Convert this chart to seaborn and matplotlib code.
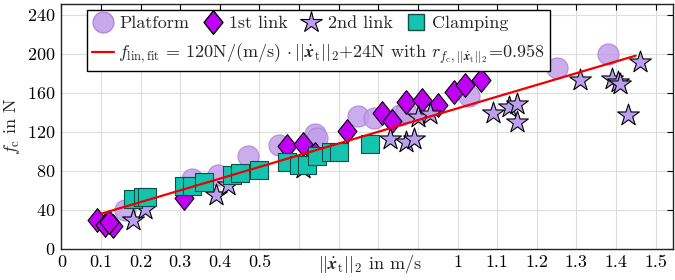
import matplotlib
matplotlib.use("Agg")
import matplotlib.pyplot as plt
import seaborn as sns
import numpy as np
import pandas as pd
from matplotlib.lines import Line2D
from matplotlib.patches import Rectangle
from matplotlib.transforms import Bbox
from matplotlib.path import Path

# ---------------- data ----------------
platform_x = [0.16, 0.33, 0.395, 0.47, 0.55, 0.64, 0.645, 0.75, 0.79, 0.855, 0.87, 1.03, 1.25, 1.38]
platform_y = [40, 72, 76, 95, 106, 118, 114, 136, 134, 137, 140, 157, 185, 200]

link1_x = [0.09, 0.11, 0.13, 0.12, 0.31, 0.57, 0.61, 0.64, 0.72, 0.81, 0.835, 0.87, 0.91, 0.95, 0.99, 1.02, 1.06]
link1_y = [30, 25, 23, 28, 52, 105, 107, 97, 121, 139, 131, 151, 153, 147, 161, 168, 173]

link2_x = [0.18, 0.21, 0.39, 0.42, 0.61, 0.83, 0.87, 0.89, 0.90, 0.93, 1.09, 1.13, 1.15, 1.15, 1.31, 1.39, 1.405, 1.41, 1.43, 1.46]
link2_y = [30, 41, 55, 65, 83, 113, 110, 113, 135, 138, 139, 145, 148, 130, 173, 174, 171, 169, 137, 192]

clamp_x = [0.18, 0.205, 0.215, 0.31, 0.33, 0.36, 0.43, 0.45, 0.50, 0.57, 0.60, 0.62, 0.645, 0.68, 0.70, 0.78]
clamp_y = [51, 53, 53, 64, 64, 69, 76, 78, 81, 89, 86, 86, 95, 99, 99, 108]

fit_slope = 120
fit_intercept = 24
fit_x = [0.1, 1.45]

x_ticks = [0, 0.1, 0.2, 0.3, 0.4, 0.5, 0.6, 0.7, 0.8, 0.9, 1.0, 1.1, 1.2, 1.3, 1.4, 1.5]
x_ticklabels = ["0", "0.1", "0.2", "0.3", "0.4", "0.5", "", "", "", "", "1", "1.1", "1.2", "1.3", "1.4", "1.5"]
y_ticks = [0, 40, 80, 120, 160, 200, 240]

# ---------------- style ----------------
sns.set_theme(style="white")
plt.rcParams["font.family"] = ["cmr10", "DejaVu Serif"]
plt.rcParams["mathtext.fontset"] = "cm"
plt.rcParams["axes.formatter.use_mathtext"] = True
plt.rcParams["axes.unicode_minus"] = False

FS = 13
c_plat = "#C29EEA"
c_l1 = "#BF00F5"
c_l2 = "#BBA0F2"
c_cl = "#14C4AE"

# MATLAB-like diamond (slightly taller than wide)
diamond = Path([(0, 1), (0.8, 0), (0, -1), (-0.8, 0), (0, 1)],
               [Path.MOVETO, Path.LINETO, Path.LINETO, Path.LINETO, Path.CLOSEPOLY])

fig = plt.figure(figsize=(6.75, 2.8), dpi=100)
ax = fig.add_axes([0.091, 0.111, 0.906, 0.875])

df_p = pd.DataFrame({"x": platform_x, "y": platform_y})
df_1 = pd.DataFrame({"x": link1_x, "y": link1_y})
df_2 = pd.DataFrame({"x": link2_x, "y": link2_y})
df_c = pd.DataFrame({"x": clamp_x, "y": clamp_y})
fit_y = [fit_slope * v + fit_intercept for v in fit_x]
df_f = pd.DataFrame({"x": fit_x, "y": fit_y})

sns.scatterplot(data=df_p, x="x", y="y", ax=ax, marker="o", s=230, color=c_plat,
                edgecolor="#A884D0", linewidth=0.8, alpha=0.85, zorder=3, legend=False)
sns.scatterplot(data=df_1, x="x", y="y", ax=ax, marker=diamond, s=290, color=c_l1,
                edgecolor="black", linewidth=0.8, zorder=3, legend=False)
sns.scatterplot(data=df_2, x="x", y="y", ax=ax, marker="*", s=270, color=c_l2,
                edgecolor="black", linewidth=0.8, zorder=3, legend=False)
sns.scatterplot(data=df_c, x="x", y="y", ax=ax, marker="s", s=170, color=c_cl,
                edgecolor="#0B4F48", linewidth=0.8, zorder=3, legend=False)
sns.lineplot(data=df_f, x="x", y="y", ax=ax, color="#EE0000", linewidth=1.6, zorder=4)

ax.set_xlim(0, 1.544)
ax.set_ylim(0, 251)
ax.set_xticks(x_ticks)
ax.set_xticklabels(x_ticklabels)
ax.set_yticks(y_ticks)
ax.tick_params(direction="in", length=4, width=0.8, top=True, right=True,
               labelsize=FS, colors="black", pad=4)
ax.grid(True, color="#DDDDDD", linewidth=0.8)
ax.set_axisbelow(True)
for sp in ax.spines.values():
    sp.set_color("#222222")
    sp.set_linewidth(1.0)

ax.set_xlabel(r"$||\dot{\boldsymbol{x}}_\mathrm{t}||_2$ in m/s", fontsize=FS)
ax.xaxis.set_label_coords(0.505, -0.015)
ax.set_ylabel(r"$f_\mathrm{c}$ in N", fontsize=FS)
ax.yaxis.set_label_coords(-0.065, 0.5)

# ---------------- legend ----------------
h_p = Line2D([], [], marker="o", linestyle="none", markersize=15, markerfacecolor=c_plat,
             markeredgecolor="#A884D0", alpha=0.9)
h_1 = Line2D([], [], marker=diamond, linestyle="none", markersize=17, markerfacecolor=c_l1,
             markeredgecolor="black")
h_2 = Line2D([], [], marker="*", linestyle="none", markersize=16, markerfacecolor=c_l2,
             markeredgecolor="black", markeredgewidth=0.8)
h_c = Line2D([], [], marker="s", linestyle="none", markersize=12, markerfacecolor=c_cl,
             markeredgecolor="#0B4F48")
h_f = Line2D([], [], color="#EE0000", linewidth=1.6)

leg1 = ax.legend([h_p, h_1, h_2, h_c], ["Platform", "1st link", "2nd link", "Clamping"],
                 ncol=4, loc="upper left", bbox_to_anchor=(0.027, 1.012), frameon=False,
                 fontsize=FS, handletextpad=0.3, columnspacing=0.7, handlelength=1.2,
                 borderpad=0.3)
ax.add_artist(leg1)
fit_label = (r"$f_\mathrm{lin,fit}\, = \,120\mathrm{N/(m/s)}\,\cdot||\dot{\boldsymbol{x}}_\mathrm{t}||_2$"
             r"+24N with $r_{f_\mathrm{c},||\dot{\boldsymbol{x}}_\mathrm{t}||_2}$=0.958")
leg2 = ax.legend([h_f], [fit_label], loc="upper left", bbox_to_anchor=(0.027, 0.905),
                 frameon=False, fontsize=FS, handletextpad=0.2, handlelength=1.2,
                 borderpad=0.3)
leg1.set_zorder(6)
leg2.set_zorder(6)

fig.canvas.draw()
r = fig.canvas.get_renderer()
bb = Bbox.union([leg1.get_window_extent(r), leg2.get_window_extent(r)])
bb_ax = bb.transformed(ax.transAxes.inverted())
rect = Rectangle((bb_ax.x0, bb_ax.y0), bb_ax.width, bb_ax.height, transform=ax.transAxes,
                 facecolor="white", edgecolor="black", linewidth=1.0, zorder=5.5, clip_on=False)
ax.add_patch(rect)

fig.savefig("out.png", dpi=100)
